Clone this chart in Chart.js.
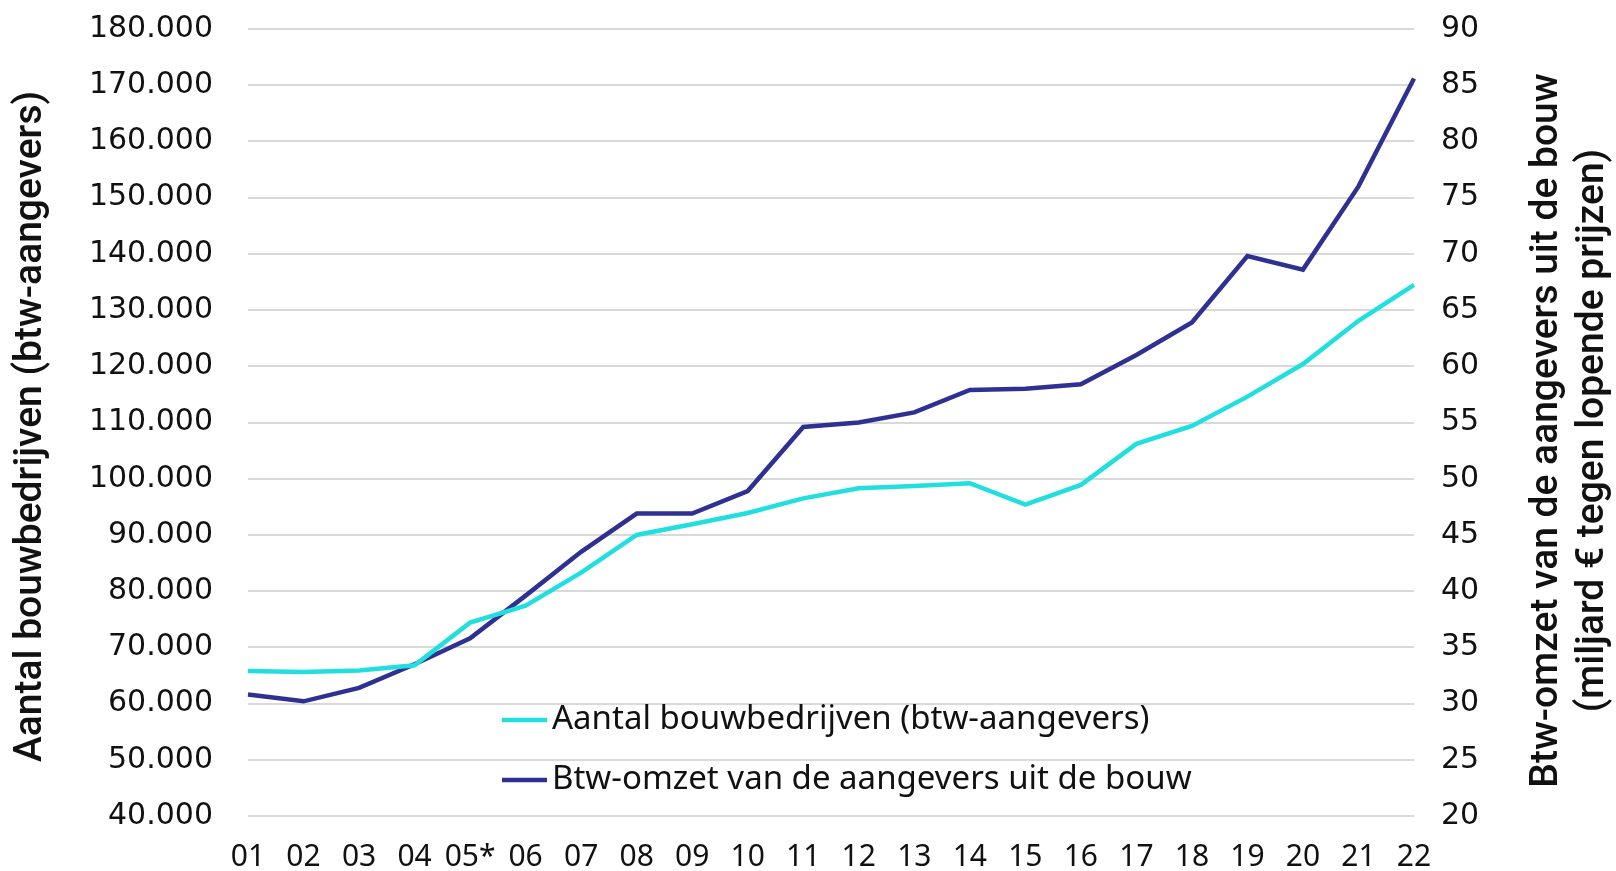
<!DOCTYPE html>
<html>
<head>
<meta charset="utf-8">
<script src="https://cdn.jsdelivr.net/npm/chart.js@4"></script>
<style>
  html, body { margin: 0; padding: 0; background: #fff; }
  #wrap { position: relative; width: 1616px; height: 871px; }
</style>
</head>
<body>
<div id="wrap"><canvas id="bouw-chart"></canvas></div>
<script>
// years (2001-2022), 05* = break in series
const years = ['01', '02', '03', '04', '05*', '06', '07', '08', '09', '10', '11',
  '12', '13', '14', '15', '16', '17', '18', '19', '20', '21', '22'];

// number of construction firms (VAT filers)
const aantalBedrijven = [65800, 65600, 65900, 66800, 74400, 77400, 83300, 90000, 91900, 93900, 96500,
  98300, 98700, 99200, 95400, 98900, 106200, 109400, 114600, 120400, 128100, 134500];

// VAT turnover, billion euro
const btwOmzet = [30.8, 30.2, 31.4, 33.5, 35.8, 39.6, 43.5, 46.9, 46.9, 48.9, 54.6,
  55.0, 55.9, 57.9, 58.0, 58.4, 61.0, 63.9, 69.8, 68.6, 76.0, 85.6];

const seriesLabels = ['Aantal bouwbedrijven (btw-aangevers)', 'Btw-omzet van de aangevers uit de bouw'];
const leftTitle = 'Aantal bouwbedrijven (btw-aangevers)';
const rightTitle = ['Btw-omzet van de aangevers uit de bouw', '(miljard € tegen lopende prijzen)'];

const CYAN = '#22dfdf';
const NAVY = '#2e3192';
const TEXT = '#111111';
const GRID = '#d9d9d9';

const nlNumber = v => v.toLocaleString('nl-NL');

const titleFont = '500 39px Roboto, sans-serif';
const legendFont = '33px "Noto Sans", sans-serif';

// titles + legend drawn by hand (right title reads bottom-to-top)
const extras = {
  id: 'extras',
  afterDraw(chart) {
    const { ctx, chartArea } = chart;
    const cy = (chartArea.top + chartArea.bottom) / 2 + 8;

    ctx.save();
    ctx.fillStyle = TEXT;
    ctx.font = titleFont;
    ctx.textAlign = 'center';
    ctx.textBaseline = 'middle';

    ctx.save();
    ctx.translate(31, cy - 4);
    ctx.rotate(-Math.PI / 2);
    ctx.fillText(leftTitle, 0, 0);
    ctx.restore();

    ctx.save();
    ctx.translate(chart.width - 69, cy);
    ctx.rotate(-Math.PI / 2);
    ctx.fillText(rightTitle[0], 0, 0);
    ctx.fillText(rightTitle[1], 0, 46);
    ctx.restore();

    // legend inside the plot
    ctx.font = legendFont;
    ctx.textAlign = 'left';
    const lx = chartArea.left + 254;
    chart.data.datasets.forEach((ds, i) => {
      const y = chartArea.bottom - 96 + i * 60;
      ctx.strokeStyle = ds.borderColor;
      ctx.lineWidth = 4.5;
      ctx.beginPath();
      ctx.moveTo(lx, y);
      ctx.lineTo(lx + 45, y);
      ctx.stroke();
      ctx.fillStyle = TEXT;
      ctx.fillText(ds.label, lx + 50, y);
    });
    ctx.restore();
  }
};

// keep the tick-label padding from pushing the plot area in
const fixY = width => scale => {
  scale.width = width;
  scale.paddingTop = 0;
  scale.paddingBottom = 0;
};

const ctx = document.getElementById('bouw-chart').getContext('2d');

new Chart(ctx, {
  type: 'line',
  data: {
    labels: years,
    datasets: [{
      label: seriesLabels[0],
      data: aantalBedrijven,
      yAxisID: 'y',
      borderColor: CYAN,
      backgroundColor: CYAN,
      borderWidth: 4.5,
      pointRadius: 0,
      tension: 0
    }, {
      label: seriesLabels[1],
      data: btwOmzet,
      yAxisID: 'y1',
      borderColor: NAVY,
      backgroundColor: NAVY,
      borderWidth: 4.5,
      pointRadius: 0,
      tension: 0
    }]
  },
  options: {
    responsive: true,
    maintainAspectRatio: false,
    animation: false,
    layout: { padding: { top: 29, left: 0, right: 0, bottom: 0 } },
    plugins: {
      legend: { display: false },
      tooltip: { enabled: false }
    },
    scales: {
      x: {
        offset: false,
        grid: { display: false },
        border: { display: false },
        ticks: {
          color: TEXT,
          padding: 15,
          maxRotation: 0,
          autoSkip: false,
          font: { family: '"Noto Sans", sans-serif', size: 30 }
        },
        afterFit: scale => {
          scale.height = 55;
          scale.paddingLeft = 0;
          scale.paddingRight = 0;
        }
      },
      y: {
        position: 'left',
        min: 40000,
        max: 180000,
        grid: { color: GRID, lineWidth: 2, drawTicks: false },
        border: { display: false },
        ticks: {
          stepSize: 10000,
          color: TEXT,
          padding: 35,
          font: { family: '"DejaVu Sans", sans-serif', size: 30 },
          callback: v => nlNumber(v)
        },
        afterFit: fixY(248)
      },
      y1: {
        position: 'right',
        min: 20,
        max: 90,
        grid: { display: false, drawTicks: false },
        border: { display: false },
        ticks: {
          stepSize: 5,
          color: TEXT,
          padding: 27,
          font: { family: '"DejaVu Sans", sans-serif', size: 30 }
        },
        afterFit: fixY(202)
      }
    }
  },
  plugins: [extras]
});
</script>
</body>
</html>
